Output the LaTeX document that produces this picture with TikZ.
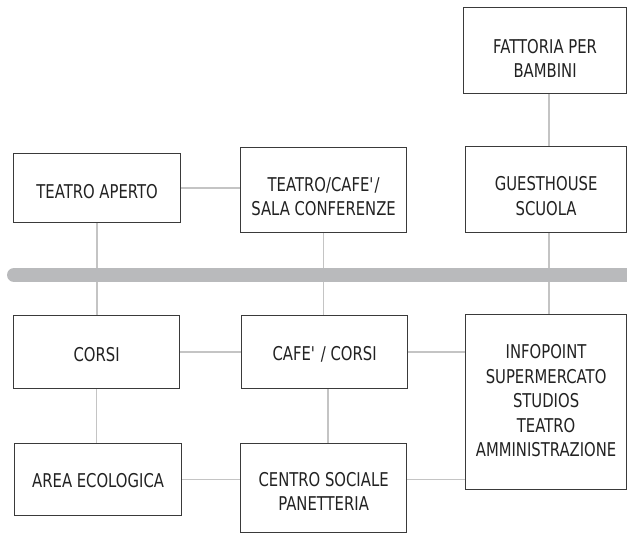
\documentclass[tikz,border=0pt]{standalone}
\usepackage{fontspec}
\setmainfont[FakeStretch=0.78]{DejaVu Sans}
\definecolor{edgegray}{HTML}{3A3A3A}
\definecolor{inkgray}{HTML}{222222}
\definecolor{linkgray}{HTML}{C4C4C4}
\definecolor{bargray}{HTML}{B9BABC}
\pgfdeclarelayer{links}
\pgfdeclarelayer{spine}
\pgfsetlayers{links,spine,main}
\newcommand{\apos}{\textquotesingle}
\begin{document}
\begin{tikzpicture}[x=1pt,y=-1pt,
  box/.style={draw=edgegray, line width=1.2pt, fill=white, anchor=north west,
    inner sep=0pt},
  boxtext/.style={align=center, text=inkgray, inner sep=0pt,
    font=\fontsize{19}{24.5}\selectfont},
  link/.style={draw=linkgray, line width=1.3pt},
  bar/.style={draw=bargray, line width=14pt, line cap=round}]
\useasboundingbox (0,0) rectangle (627,534);

% boxes
\node[box, minimum width=167pt, minimum height=69pt]  (ta) at (13,153) {};
\node[box, minimum width=166pt, minimum height=85pt]  (tc) at (240,147) {};
\node[box, minimum width=163pt, minimum height=86pt]  (fa) at (463,7) {};
\node[box, minimum width=161pt, minimum height=86pt]  (gh) at (465,146) {};
\node[box, minimum width=166pt, minimum height=73pt]  (co) at (13,315) {};
\node[box, minimum width=166pt, minimum height=73pt]  (cc) at (241,315) {};
\node[box, minimum width=161pt, minimum height=175pt] (ip) at (465,314) {};
\node[box, minimum width=167pt, minimum height=72pt]  (ae) at (14,443) {};
\node[box, minimum width=166pt, minimum height=89pt]  (cs) at (240,443) {};

% box captions
\node[boxtext] (ta-t) at ([yshift=-3pt]ta.center)   {TEATRO APERTO};
\node[boxtext] (tc-t) at ([yshift=-6.5pt]tc.center) {TEATRO/CAFE\apos/\\SALA CONFERENZE};
\node[boxtext] (fa-t) at ([yshift=-8pt]fa.center)   {FATTORIA PER\\BAMBINI};
\node[boxtext] (gh-t) at ([yshift=-6.5pt]gh.center) {GUESTHOUSE\\SCUOLA};
\node[boxtext] (co-t) at ([yshift=-2pt]co.center)   {CORSI};
\node[boxtext] (cc-t) at ([yshift=-2pt]cc.center)   {CAFE\apos{} / CORSI};
\node[boxtext] (ip-t) at ([yshift=1.5pt]ip.center)
  {INFOPOINT\\SUPERMERCATO\\STUDIOS\\TEATRO\\AMMINISTRAZIONE};
\node[boxtext] (ae-t) at ([yshift=-1pt]ae.center)   {AREA ECOLOGICA};
\node[boxtext] (cs-t) at ([yshift=-3.5pt]cs.center) {CENTRO SOCIALE\\PANETTERIA};

\coordinate (rcol) at (549,0);
\coordinate (ccol) at (328,0);
\coordinate (bar0) at (14,275);
\coordinate (bar1) at (660,275);

% thin connectors, underneath everything
\begin{pgfonlayer}{links}
  \draw[link] (ta.east) -- (ta.east -| tc.west);
  \draw[link] (ta.south) -- (ta.south |- co.north);
  \draw[link] (tc.south) -- (tc.south |- cc.north);
  \draw[link] (fa.south -| rcol) -- (gh.north -| rcol);
  \draw[link] (gh.south -| rcol) -- (ip.north -| rcol);
  \draw[link] (co.east) -- (co.east -| cc.west);
  \draw[link] (cc.east) -- (cc.east -| ip.west);
  \draw[link] (co.south) -- (co.south |- ae.north);
  \draw[link] (cc.south -| ccol) -- (cs.north -| ccol);
  \draw[link] (ae.east) -- (ae.east -| cs.west);
  \draw[link] (ae.east -| cs.east) -- (ae.east -| ip.west);
\end{pgfonlayer}

% the wide grey spine crossing the vertical links
\begin{pgfonlayer}{spine}
  \draw[bar] (bar0) -- (bar1);
\end{pgfonlayer}
\end{tikzpicture}
\end{document}
